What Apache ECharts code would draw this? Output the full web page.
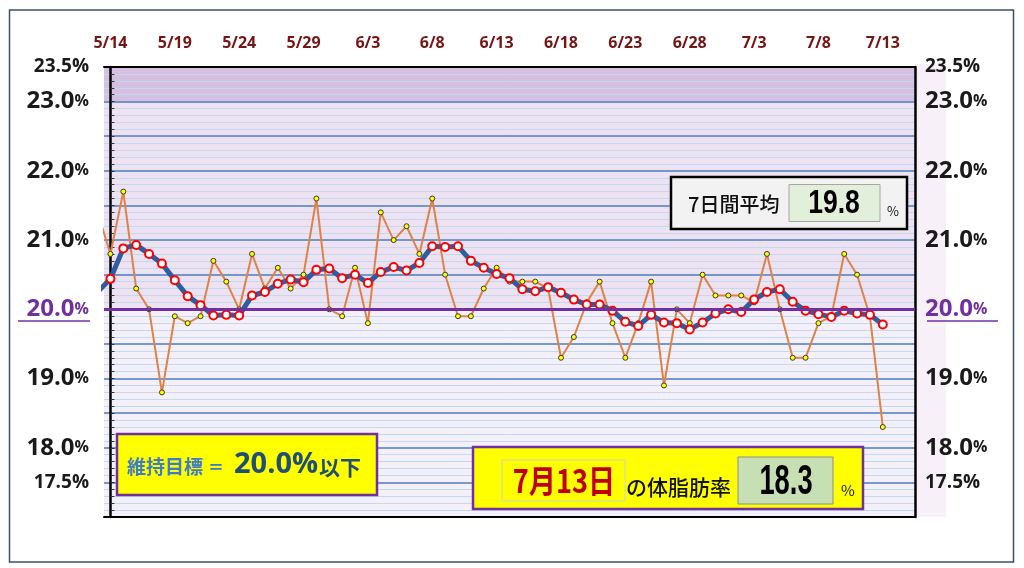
<!DOCTYPE html>
<html>
<head>
<meta charset="utf-8">
<script src="https://cdn.jsdelivr.net/npm/echarts@6/dist/echarts.min.js"></script>
<style>
html,body{margin:0;padding:0;background:#fff;}
#chart{width:1024px;height:568px;}
</style>
</head>
<body>
<div id="chart"></div>
<script>
// Category (date) labels: 5/14 .. 7/15 (last two days are empty slots)
const dates = ['5/14','5/15','5/16','5/17','5/18','5/19','5/20','5/21','5/22','5/23','5/24','5/25','5/26','5/27','5/28','5/29','5/30','5/31',
  '6/1','6/2','6/3','6/4','6/5','6/6','6/7','6/8','6/9','6/10','6/11','6/12','6/13','6/14','6/15','6/16','6/17','6/18','6/19','6/20',
  '6/21','6/22','6/23','6/24','6/25','6/26','6/27','6/28','6/29','6/30',
  '7/1','7/2','7/3','7/4','7/5','7/6','7/7','7/8','7/9','7/10','7/11','7/12','7/13','7/14','7/15'];

// Daily body-fat % (5/14 .. 7/13)
const bodyFat = [20.8,21.7,20.3,20.0,18.8,19.9,19.8,19.9,20.7,20.4,
  20.0,20.8,20.3,20.6,20.3,20.5,21.6,20.0,19.9,20.6,
  19.8,21.4,21.0,21.2,20.8,21.6,20.5,19.9,19.9,20.3,
  20.6,20.4,20.4,20.4,20.3,19.3,19.6,20.1,20.4,19.8,
  19.3,19.8,20.4,18.9,20.0,19.8,20.5,20.2,20.2,20.2,
  20.1,20.8,20.0,19.3,19.3,19.8,19.9,20.8,20.5,19.9,
  18.3];
// 7-day average line (5/14 .. 7/13)
const avg7 = [20.44,20.88,20.93,20.80,20.66,20.42,20.19,20.06,19.91,19.92,
  19.91,20.20,20.25,20.37,20.43,20.39,20.57,20.59,20.45,20.50,
  20.38,20.54,20.61,20.56,20.67,20.91,20.90,20.91,20.70,20.60,
  20.51,20.45,20.29,20.26,20.32,20.24,20.14,20.07,20.07,19.98,
  19.82,19.76,19.92,19.81,19.80,19.71,19.81,19.94,20.00,19.96,
  20.14,20.25,20.29,20.11,19.98,19.93,19.89,19.98,19.94,19.92,
  19.78];
// values of the day before 5/14 (line enters from the left edge)
const prevBodyFat = [21.4];
const prevAvg7 = [20.25];

const yLabels = [23.5, 23.0, 22.0, 21.0, 20.0, 19.0, 18.0, 17.5];
const target = [20.0];

const fatData = [[-1, prevBodyFat[0]]].concat(bodyFat.map((v, i) => [i, v]));
const avgData = [[-1, prevAvg7[0]]].concat(avg7.map((v, i) => [i, v]));

const lastIdx = bodyFat.length - 1;
const lastDate = dates[lastIdx].split('/');
const lastDateText = lastDate[0] + '月' + lastDate[1] + '日';
const lastFatText = bodyFat[lastIdx].toFixed(1);
const lastAvgText = avg7[lastIdx].toFixed(1);

const FONT = '"Open Sans", "Noto Sans", sans-serif';
const JP = '"Noto Sans CJK JP", sans-serif';

function yFmt(v) {
  const k = Math.round(v * 10) / 10;
  if (yLabels.indexOf(k) < 0) return '';
  const s = k.toFixed(1);
  if (k === 23.5 || k === 17.5) return '{s|' + s + '%}';
  if (k === target[0]) return '{p|' + s + '}{pp|%}';
  return '{b|' + s + '}{bp|%}';
}
const richY = {
  s: {fontFamily: FONT, fontWeight: 'bold', fontSize: 19, color: '#1a1a1a'},
  b: {fontFamily: FONT, fontWeight: 'bold', fontSize: 24, color: '#1a1a1a'},
  bp: {fontFamily: FONT, fontWeight: 'bold', fontSize: 16, color: '#1a1a1a'},
  p: {fontFamily: FONT, fontWeight: 'bold', fontSize: 24, color: '#7030a0'},
  pp: {fontFamily: FONT, fontWeight: 'bold', fontSize: 16, color: '#7030a0'}
};

const bandColors = ['#f4f0f9','#f4f0f9','#f4f0f9','#f4f0f9','#f4f0f9','#f4f0f9',
  '#ece2f1','#ece2f1','#ece2f1','#ece2f1','#ece2f1','#ece2f1','#d5c0e1'];

const chart = echarts.init(document.getElementById('chart'), null, {renderer: 'canvas'});
chart.setOption({
  animation: false,
  backgroundColor: '#ffffff',
  grid: {left: 104, right: 109, top: 67, bottom: 51, show: false},
  xAxis: [
    {
      type: 'category', data: dates, position: 'top', boundaryGap: true,
      axisLine: {show: true, lineStyle: {color: '#000', width: 2}},
      axisTick: {show: false},
      axisLabel: {interval: 4, margin: 16, color: '#751616', fontFamily: FONT, fontWeight: 'bold', fontSize: 16},
      splitLine: {show: false}, z: 4
    },
    {
      type: 'value', min: -0.5, max: 62.5, position: 'bottom',
      axisLine: {show: true, onZero: false, lineStyle: {color: '#000', width: 2}},
      axisTick: {show: false}, axisLabel: {show: false}, splitLine: {show: false}, z: 4
    }
  ],
  yAxis: [
    {
      type: 'value', min: 17, max: 23.5, interval: 0.5, position: 'left',
      axisLine: {show: true, lineStyle: {color: '#000', width: 2.5}},
      axisTick: {show: true, inside: true, length: 4, lineStyle: {color: '#333'}},
      minorTick: {show: true, splitNumber: 5, length: 4, lineStyle: {color: '#333'}},
      axisLabel: {margin: 15, formatter: yFmt, rich: richY, showMinLabel: true, showMaxLabel: true},
      splitLine: {show: true, lineStyle: {color: '#4a7ebb', width: 1.5}},
      minorSplitLine: {show: true, lineStyle: {color: '#c6d8ef', width: 1}},
      splitArea: {show: true, areaStyle: {color: bandColors}},
      z: 1
    },
    {
      type: 'value', min: 17, max: 23.5, interval: 0.5, position: 'right',
      axisLine: {show: true, lineStyle: {color: '#000', width: 2.5}},
      axisTick: {show: false},
      axisLabel: {margin: 10, formatter: yFmt, rich: richY, showMinLabel: true, showMaxLabel: true},
      splitLine: {show: false},
      z: 4
    }
  ],
  series: [
    {
      name: 'target', type: 'line', xAxisIndex: 1, yAxisIndex: 0, data: [], z: 2,
      markLine: {
        silent: true, symbol: 'none', label: {show: false},
        lineStyle: {color: '#7030a0', width: 3, type: 'solid'},
        data: [{yAxis: target[0]}]
      }
    },
    {
      name: '体脂肪率', type: 'line', xAxisIndex: 1, yAxisIndex: 0, data: fatData, z: 3,
      showAllSymbol: true, symbol: 'circle', symbolSize: 5,
      lineStyle: {color: '#df8247', width: 2},
      itemStyle: {color: '#ffff00', borderColor: '#3a3a3a', borderWidth: 1}
    },
    {
      name: '7日間平均', type: 'line', xAxisIndex: 1, yAxisIndex: 0, data: avgData, z: 4,
      showAllSymbol: true, symbol: 'circle', symbolSize: 8,
      lineStyle: {color: '#2f5d9f', width: 5},
      itemStyle: {color: '#ffffff', borderColor: '#ff0000', borderWidth: 2}
    }
  ],
  graphic: {elements: [
    {type: 'rect', z: -20, shape: {x: 9.5, y: 10, width: 1004, height: 552},
      style: {fill: 'none', stroke: '#3d4f6e', lineWidth: 1.5}},
    {type: 'rect', z: -10, shape: {x: 917, y: 64, width: 29, height: 453},
      style: {fill: '#f7f0f8'}},
    {type: 'line', z: 5, shape: {x1: 18, y1: 321, x2: 90, y2: 321}, style: {stroke: '#7030a0', lineWidth: 1.5}},
    {type: 'line', z: 5, shape: {x1: 927, y1: 321, x2: 998, y2: 321}, style: {stroke: '#7030a0', lineWidth: 1.5}},

    // 7-day average box
    {type: 'rect', z: 20, shape: {x: 671, y: 177, width: 236, height: 52},
      style: {fill: '#f2f2f2', stroke: '#000', lineWidth: 2.5}},
    {type: 'text', z: 21, x: 688, y: 204, style: {text: '7日間平均', font: 'normal 500 20px ' + JP, fill: '#111', textAlign: 'left', textVerticalAlign: 'middle'}},
    {type: 'rect', z: 21, shape: {x: 789, y: 184.5, width: 91, height: 37},
      style: {fill: '#e2efda', stroke: '#a6a6a6', lineWidth: 1}},
    {type: 'text', z: 22, x: 834, y: 204, scaleX: 0.78, style: {text: lastAvgText, font: 'bold 34px "Liberation Sans", Arial, sans-serif', fill: '#000', textAlign: 'center', textVerticalAlign: 'middle'}},
    {type: 'text', z: 22, x: 893, y: 211, style: {text: '%', font: 'normal 13px ' + JP, fill: '#111', textAlign: 'center', textVerticalAlign: 'middle'}},

    // target box
    {type: 'rect', z: 20, shape: {x: 117, y: 434, width: 260, height: 61},
      style: {fill: '#ffff00', stroke: '#7030a0', lineWidth: 2.5}},
    {type: 'text', z: 21, x: 127, y: 467, style: {text: '維持目標', font: 'bold 19px ' + JP, fill: '#3d7cc9', textAlign: 'left', textVerticalAlign: 'middle'}},
    {type: 'text', z: 21, x: 216, y: 467, style: {text: '＝', font: 'bold 16px ' + JP, fill: '#3d7cc9', textAlign: 'center', textVerticalAlign: 'middle'}},
    {type: 'text', z: 21, x: 234, y: 465, style: {text: target[0].toFixed(1) + '%', font: 'bold 29px ' + FONT, fill: '#1f4e79', textAlign: 'left', textVerticalAlign: 'middle'}},
    {type: 'text', z: 21, x: 319, y: 467, style: {text: '以下', font: 'bold 21px ' + JP, fill: '#1f4e79', textAlign: 'left', textVerticalAlign: 'middle'}},

    // latest value box
    {type: 'rect', z: 20, shape: {x: 473, y: 447, width: 390, height: 62},
      style: {fill: '#ffff00', stroke: '#7030a0', lineWidth: 2.5}},
    {type: 'rect', z: 21, shape: {x: 502, y: 460, width: 123, height: 41},
      style: {fill: '#ffff00', stroke: '#d0d0d0', lineWidth: 1}},
    {type: 'text', z: 22, x: 564, y: 481, scaleX: 0.85, style: {text: lastDateText, font: 'bold 32px ' + JP, fill: '#c00000', textAlign: 'center', textVerticalAlign: 'middle'}},
    {type: 'text', z: 21, x: 626, y: 487, style: {text: 'の体脂肪率', font: 'normal 500 21px ' + JP, fill: '#111', textAlign: 'left', textVerticalAlign: 'middle'}},
    {type: 'rect', z: 21, shape: {x: 738, y: 457, width: 95, height: 47},
      style: {fill: '#c6e0b4', stroke: '#8c8c8c', lineWidth: 1}},
    {type: 'text', z: 22, x: 786, y: 482, scaleX: 0.65, style: {text: lastFatText, font: 'bold 42px "Liberation Sans", Arial, sans-serif', fill: '#000', textAlign: 'center', textVerticalAlign: 'middle'}},
    {type: 'text', z: 22, x: 848, y: 490, style: {text: '%', font: 'normal 15px ' + JP, fill: '#111', textAlign: 'center', textVerticalAlign: 'middle'}}
  ]}
});
</script>
</body>
</html>
